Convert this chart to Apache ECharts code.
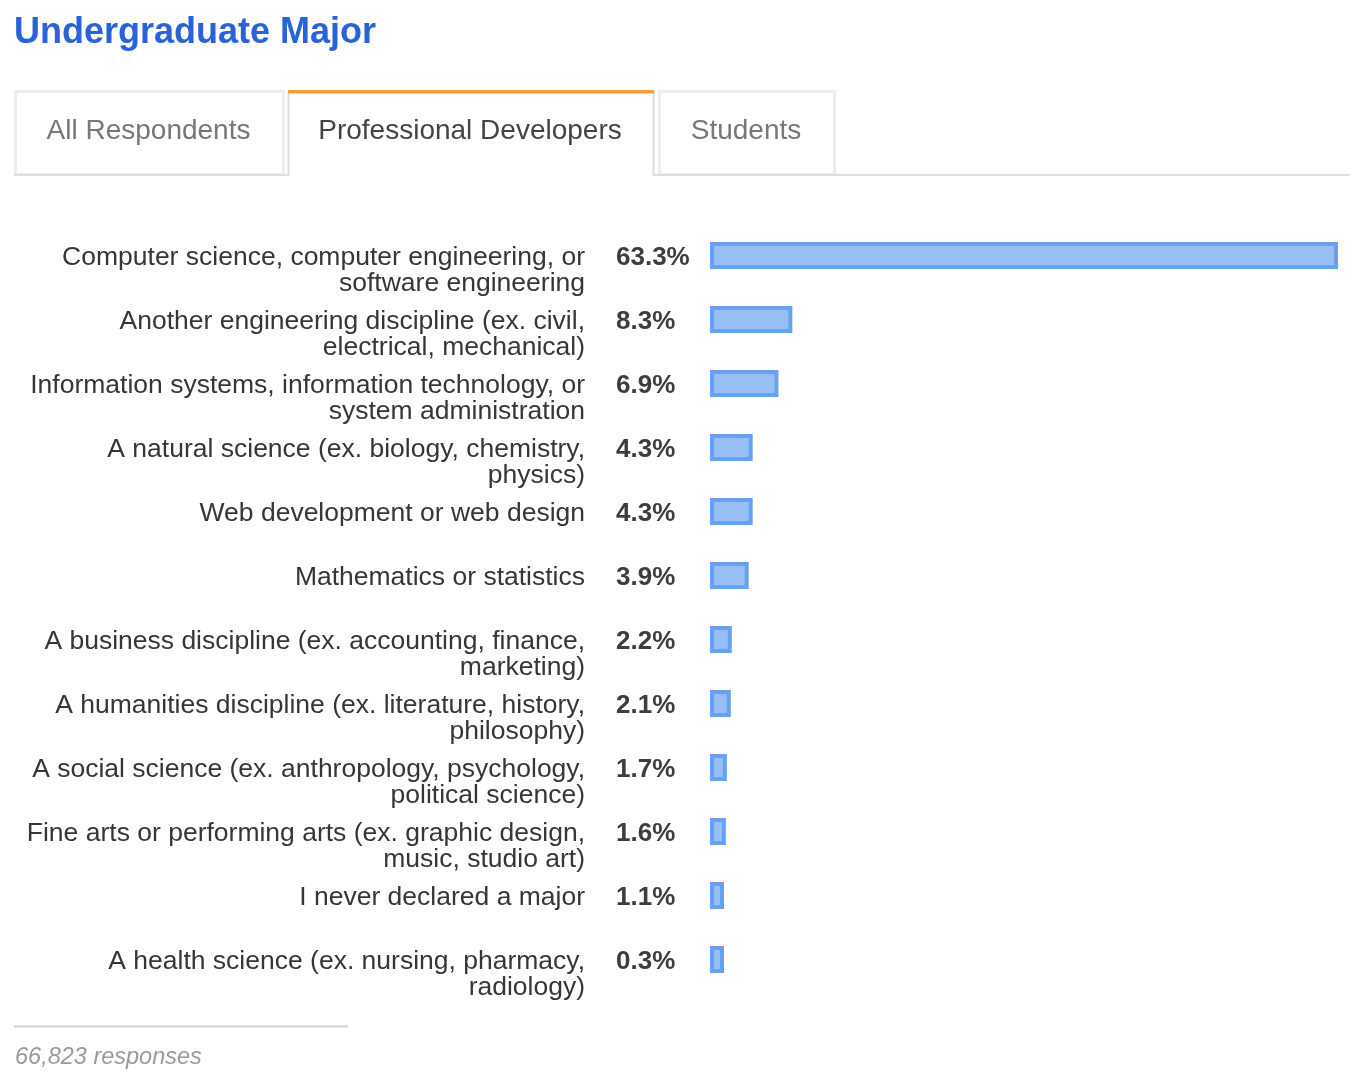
<!DOCTYPE html>
<html>
<head>
<meta charset="utf-8">
<script src="https://cdn.jsdelivr.net/npm/echarts@6/dist/echarts.min.js"></script>
<style>
html,body{margin:0;padding:0;background:#fff;}
#chart{width:1366px;height:1076px;}
</style>
</head>
<body>
<div id="chart"></div>
<script>
const titleText = 'Undergraduate Major';
const tabLabels = ['All Respondents', 'Professional Developers', 'Students'];
const activeTab = 1;
const footerText = '66,823 responses';

const categories = [
  'Computer science, computer engineering, or\nsoftware engineering',
  'Another engineering discipline (ex. civil,\nelectrical, mechanical)',
  'Information systems, information technology, or\nsystem administration',
  'A natural science (ex. biology, chemistry,\nphysics)',
  'Web development or web design',
  'Mathematics or statistics',
  'A business discipline (ex. accounting, finance,\nmarketing)',
  'A humanities discipline (ex. literature, history,\nphilosophy)',
  'A social science (ex. anthropology, psychology,\npolitical science)',
  'Fine arts or performing arts (ex. graphic design,\nmusic, studio art)',
  'I never declared a major',
  'A health science (ex. nursing, pharmacy,\nradiology)'
];
const percentages = [63.3, 8.3, 6.9, 4.3, 4.3, 3.9, 2.2, 2.1, 1.7, 1.6, 1.1, 0.3];

const FONT = '"Liberation Sans", Arial, Helvetica, sans-serif';
const chart = echarts.init(document.getElementById('chart'), null, {renderer: 'canvas'});

const tabBoxes = [
  {x: 15.5, w: 268},
  {x: 288, w: 366},
  {x: 659.5, w: 175}
];

const graphics = [];
graphics.push({type: 'line', z: 1, shape: {x1: 14, y1: 175, x2: 1350, y2: 175}, style: {stroke: '#dedede', lineWidth: 2}});
tabLabels.forEach((t, i) => {
  const b = tabBoxes[i];
  if (i === activeTab) {
    graphics.push({type: 'rect', z: 2, shape: {x: b.x, y: 91, width: b.w, height: 86}, style: {fill: '#fff'}});
    graphics.push({type: 'polyline', z: 3, shape: {points: [[b.x + 0.5, 176], [b.x + 0.5, 92], [b.x + b.w - 0.5, 92], [b.x + b.w - 0.5, 176]]}, style: {stroke: '#dddddd', lineWidth: 2, fill: null}});
    graphics.push({type: 'rect', z: 4, shape: {x: b.x, y: 90, width: b.w, height: 3.5}, style: {fill: '#f0a03c'}});
  } else {
    graphics.push({type: 'rect', z: 0, shape: {x: b.x, y: 91.5, width: b.w, height: 83}, style: {fill: '#fff', stroke: '#ededed', lineWidth: 3}});
  }
  graphics.push({type: 'text', z: 5, x: b.x + b.w / 2 - 1, y: 131, style: {text: t, font: '28px ' + FONT, fill: i === activeTab ? '#444444' : '#777777', align: 'center', verticalAlign: 'middle'}});
});
graphics.push({type: 'line', shape: {x1: 14, y1: 1026.5, x2: 348, y2: 1026.5}, style: {stroke: '#d2d2d2', lineWidth: 2}});
graphics.push({type: 'text', x: 15, y: 1057, style: {text: footerText, font: 'italic 23.5px ' + FONT, fill: '#9b9b9b', align: 'left', verticalAlign: 'middle'}});

const option = {
  backgroundColor: '#ffffff',
  animation: false,
  title: {
    text: titleText,
    left: 9,
    top: 10,
    textStyle: {fontFamily: FONT, fontSize: 36, fontWeight: 'bold', color: '#2a62d9'}
  },
  graphic: graphics,
  grid: {left: 710, top: 223.5, width: 628, height: 768, containLabel: false},
  xAxis: {
    type: 'value', min: 0, max: 63.3,
    show: false
  },
  yAxis: {
    type: 'category',
    data: categories,
    inverse: true,
    axisLine: {show: false},
    axisTick: {show: false},
    splitLine: {show: false},
    axisLabel: {
      interval: 0,
      margin: 125,
      fontFamily: FONT,
      fontSize: 26.5,
      lineHeight: 26,
      color: '#363636',
      align: 'right',
      verticalAlign: 'top',
      padding: [-10.5, 0, 0, 0]
    }
  },
  series: [{
    type: 'bar',
    data: percentages,
    barWidth: 27,
    barMinHeight: 14,
    itemStyle: {color: '#98bff5', borderColor: '#67a2f0', borderWidth: 4},
    label: {
      show: true,
      position: 'insideLeft',
      distance: 0,
      offset: [-94, 2.5],
      formatter: p => p.value.toFixed(1) + '%',
      fontFamily: FONT,
      fontSize: 26,
      fontWeight: 'bold',
      color: '#3d3d3d'
    },
    silent: true
  }]
};
chart.setOption(option);
</script>
</body>
</html>
